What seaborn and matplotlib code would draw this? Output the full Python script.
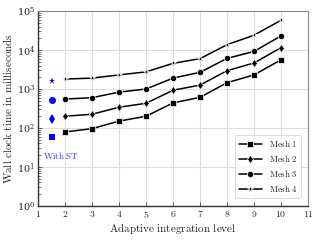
import numpy as np
import pandas as pd
import matplotlib
matplotlib.use("Agg")
import matplotlib.pyplot as plt
import seaborn as sns
from matplotlib.ticker import FixedLocator, FuncFormatter, LogLocator

levels = [2, 3, 4, 5, 6, 7, 8, 9, 10]
mesh1 = [79, 96, 150, 200, 440, 610, 1450, 2300, 5600]
mesh2 = [200, 225, 340, 430, 930, 1260, 2950, 4650, 11500]
mesh3 = [550, 600, 830, 1000, 1900, 2680, 6100, 9200, 23000]
mesh4 = [1800, 1900, 2300, 2750, 4550, 6000, 13700, 24000, 58000]
mesh_names = ["Mesh 1", "Mesh 2", "Mesh 3", "Mesh 4"]
st_level = 1.5
st_values = [60, 167, 520, 1600]
st_label = "With ST"

sns.set_theme(style="whitegrid")
plt.rcParams["font.family"] = ["serif"]
plt.rcParams["mathtext.fontset"] = "cm"

rows = []
for name, vals in zip(mesh_names, [mesh1, mesh2, mesh3, mesh4]):
    for lv, v in zip(levels, vals):
        rows.append({"level": lv, "time": v, "mesh": r"$\mathrm{" + name.replace(" ", r"\ ") + "}$"})
df = pd.DataFrame(rows)

fig = plt.figure(figsize=(3.2, 2.4), dpi=100)
ax = fig.add_axes([0.119, 0.142, 0.8435, 0.812])

markers = ["s", "d", "o", "*"]
sizes = [4, 4.5, 4.5, 4]
for (name, grp), m, s in zip(df.groupby("mesh", sort=False), markers, sizes):
    sns.lineplot(data=grp, x="level", y="time", ax=ax, color="black", marker=m,
                 markersize=s, markeredgewidth=0.5, linewidth=1.1, label=name)

st_df = pd.DataFrame({"level": [st_level] * 4, "time": st_values, "m": markers})
for (_, r), s in zip(st_df.iterrows(), [4.5, 5, 5, 5]):
    ax.plot(r["level"], r["time"], marker=r["m"], color="#0000ff", markersize=s,
            linestyle="none", markeredgewidth=0)
ax.text(1.2, 20, r"$\mathrm{With\ ST}$", color="#3333ff", fontsize=6.5,
        ha="left", va="center")

ax.set_yscale("log")
ax.set_xlim(1, 11)
ax.set_ylim(1, 1e5)
ax.xaxis.set_major_locator(FixedLocator(range(1, 12)))
ax.xaxis.set_major_formatter(FuncFormatter(lambda v, p: r"$%d$" % v))
ax.yaxis.set_major_locator(LogLocator(base=10, numticks=10))
ax.yaxis.set_minor_locator(LogLocator(base=10, subs=np.arange(2, 10), numticks=20))
ax.tick_params(axis="both", labelsize=7, pad=2)
ax.tick_params(axis="y", which="minor", left=True, length=2, width=0.5, direction="in", color="#444444")
ax.tick_params(axis="both", which="major", length=3, width=0.6, color="#444444")
ax.tick_params(axis="x", which="major", bottom=True, direction="in")
ax.tick_params(axis="y", which="major", left=True, direction="in")
ax.grid(True, which="major", color="#dddddd", linewidth=0.8)
ax.grid(False, which="minor")
ax.set_xlabel(r"$\mathrm{Adaptive\ integration\ level}$", fontsize=8, labelpad=1)
ax.set_ylabel(r"$\mathrm{Wall\ clock\ time\ in\ milliseconds}$", fontsize=8, labelpad=2)
for side in ["left", "bottom"]:
    ax.spines[side].set_color("#333333")
    ax.spines[side].set_linewidth(1.0)
for side in ["top", "right"]:
    ax.spines[side].set_color("#888888")
    ax.spines[side].set_linewidth(0.8)

leg = ax.legend(loc="lower right", fontsize=6.3, handlelength=2.6, frameon=True,
                borderpad=0.4, labelspacing=0.45, handletextpad=0.8,
                bbox_to_anchor=(0.99, 0.02))
leg.get_frame().set_edgecolor("#cccccc")
leg.get_frame().set_linewidth(0.6)

fig.savefig("out.png", dpi=100)
